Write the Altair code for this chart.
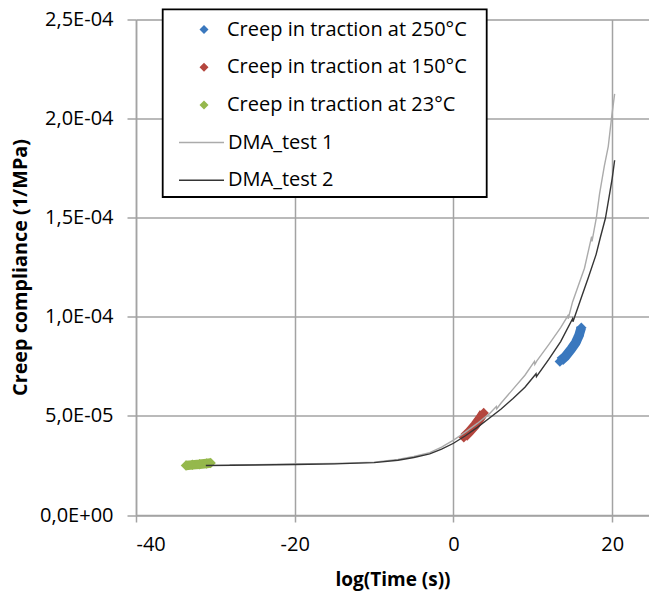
import altair as alt
import pandas as pd

# ---- data ----
SERIES = ["Creep in traction at 250°C", "Creep in traction at 150°C",
          "Creep in traction at 23°C", "DMA_test 1", "DMA_test 2"]

creep250_x = [13.4, 14.1, 14.8, 15.4, 15.8, 16.1]
creep250_y = [7.75e-5, 8.0e-5, 8.35e-5, 8.7e-5, 9.05e-5, 9.45e-5]

creep150_x = [1.3, 2.0, 2.7, 3.3, 3.8]
creep150_y = [3.92e-5, 4.2e-5, 4.52e-5, 4.85e-5, 5.15e-5]

creep23_x = [-33.7, -32.9, -32.0, -31.1, -30.6]
creep23_y = [2.5e-5, 2.53e-5, 2.56e-5, 2.6e-5, 2.62e-5]

dma1_x = [-28.2, -25, -20, -15, -10, -7, -5, -3, -1.5, 0, 1.5, 3, 4.5, 5.4, 5.45, 6,
          7.5, 9, 10.2, 10.25, 10.5, 12, 13.5, 14.4, 14.45, 15, 16.5, 17.4, 17.45, 18,
          18.4, 19, 19.5, 19.9, 20.3]
dma1_y = [2.52e-5, 2.54e-5, 2.57e-5, 2.6e-5, 2.67e-5, 2.8e-5, 2.95e-5, 3.15e-5, 3.42e-5,
          3.78e-5, 4.18e-5, 4.62e-5, 5.1e-5, 5.47e-5, 5.36e-5, 5.65e-5, 6.35e-5, 7.05e-5,
          7.75e-5, 7.6e-5, 7.78e-5, 8.6e-5, 9.45e-5, 10.05e-5, 9.9e-5, 10.75e-5, 12.45e-5,
          14.05e-5, 13.8e-5, 15.0e-5, 16.2e-5, 17.6e-5, 18.6e-5, 20.0e-5, 21.25e-5]

dma2_x = [-31.2, -28, -25, -20, -15, -10, -7, -5, -3, -1.5, 0, 1.5, 3, 4.5, 6, 7.5, 9,
          10.4, 10.45, 12, 13.5, 15, 15.05, 16.25, 17, 17.97, 18.5, 19.14, 19.65, 20.0, 20.3]
dma2_y = [2.5e-5, 2.51e-5, 2.52e-5, 2.55e-5, 2.58e-5, 2.64e-5, 2.76e-5, 2.9e-5, 3.08e-5,
          3.32e-5, 3.62e-5, 4.0e-5, 4.42e-5, 4.88e-5, 5.35e-5, 5.88e-5, 6.45e-5, 7.13e-5,
          6.98e-5, 7.85e-5, 8.75e-5, 9.9e-5, 9.75e-5, 11.14e-5, 12.0e-5, 13.15e-5, 14.0e-5,
          14.97e-5, 16.16e-5, 17.0e-5, 17.9e-5]

x_ticks = [-40, -20, 0, 20]
y_ticks = [0, 5e-5, 1e-4, 1.5e-4, 2e-4, 2.5e-4]


def frame(name, xs, ys):
    return pd.DataFrame({"series": name, "x": xs, "y": ys, "order": range(len(xs))})


creep = pd.concat([frame(SERIES[0], creep250_x, creep250_y),
                   frame(SERIES[1], creep150_x, creep150_y),
                   frame(SERIES[2], creep23_x, creep23_y)], ignore_index=True)
dma = pd.concat([frame(SERIES[3], dma1_x, dma1_y),
                 frame(SERIES[4], dma2_x, dma2_y)], ignore_index=True)

FONT = "Open Sans"
BLUE, RED, GREEN = "#3A78BE", "#B4463E", "#95B84C"
GRAY, DARK = "#ABABAB", "#353535"
GRID = "#A3A3A3"

x_enc = alt.X("x:Q", scale=alt.Scale(domain=[-40, 24.63], nice=False, zero=False),
              axis=alt.Axis(values=x_ticks, title="log(Time (s))",
                            labelExpr="'' + datum.value",
                            grid=True, gridColor=GRID, gridWidth=1.5,
                            domainColor=GRID, domainWidth=1.5,
                            tickColor=GRID, tickWidth=1.5, tickSize=7,
                            labelFont=FONT, labelFontSize=20, labelColor="#000",
                            labelPadding=12,
                            titleFont=FONT, titleFontSize=19, titleFontWeight="bold",
                            titleColor="#000", titleBaseline="alphabetic", titleY=70))
y_enc = alt.Y("y:Q", scale=alt.Scale(domain=[0, 2.5e-4], nice=False),
              axis=alt.Axis(values=y_ticks, title="Creep compliance (1/MPa)",
                            labelExpr="datum.value == 0 ? '0,0E+00' : replace(format(datum.value / pow(10, floor(log(datum.value)/LN10 + 1e-9)), '.1f'), '.', ',') + 'E-0' + (-floor(log(datum.value)/LN10 + 1e-9))",
                            grid=True, gridColor=GRID, gridWidth=1.5,
                            domainColor=GRID, domainWidth=1.5,
                            tickColor=GRID, tickWidth=1.5, tickSize=9,
                            labelFont=FONT, labelFontSize=20, labelColor="#000",
                            labelPadding=14,
                            titleFont=FONT, titleFontSize=19.8, titleFontWeight="bold",
                            titleColor="#000", titleBaseline="alphabetic",
                            titleX=-110, titleY=247.5))

stroke_scale = alt.Scale(domain=SERIES, range=[BLUE, RED, GREEN, GRAY, DARK])
fill_scale = alt.Scale(domain=SERIES[:3], range=[BLUE, RED, GREEN])

stroke_legend = alt.Legend(title=None, values=SERIES[3:], orient="none",
                           legendX=42, legendY=113, symbolType="stroke",
                           symbolSize=2025, symbolStrokeWidth=1.5,
                           labelFont=FONT, labelFontSize=20, labelColor="#000",
                           labelOffset=3, symbolOffset=0, clipHeight=20,
                           rowPadding=17.7, padding=0, labelLimit=400)
fill_legend = alt.Legend(title=None, orient="none", legendX=58, legendY=0,
                         symbolType="diamond", symbolSize=81, symbolStrokeWidth=0,
                         labelFont=FONT, labelFontSize=20, labelColor="#000",
                         labelOffset=13, symbolOffset=0, clipHeight=20,
                         rowPadding=17.7, padding=0, labelLimit=400)

creep_band = alt.Chart(creep).mark_line(strokeWidth=9.5, strokeCap="butt").encode(
    x=x_enc, y=y_enc, order="order:Q",
    stroke=alt.Stroke("series:N", scale=stroke_scale, legend=stroke_legend))

creep_pts = alt.Chart(creep).mark_point(shape="diamond", filled=True, size=110,
                                        opacity=1).encode(
    x="x:Q", y="y:Q",
    fill=alt.Fill("series:N", scale=fill_scale, legend=fill_legend))

dma_lines = alt.Chart(dma).mark_line(strokeWidth=1.4).encode(
    x="x:Q", y="y:Q", order="order:Q", stroke=alt.Stroke("series:N"))

box = alt.Chart(pd.DataFrame({"a": [0]})).mark_rect(
    fill="white", stroke="#000", strokeWidth=1.8).encode(
    x=alt.value(26.7), x2=alt.value(350.7), y=alt.value(-10.2), y2=alt.value(177.5))

chart = alt.layer(creep_band, creep_pts, dma_lines, box).properties(
    width=513, height=495.5,
    autosize=alt.AutoSizeParams(type="none"),
    padding={"left": 136, "top": 19.5, "right": 0, "bottom": 81},
).configure_view(stroke=None).configure(background="white")

chart.save("out.html", embed_options={"renderer": "svg", "actions": False})
